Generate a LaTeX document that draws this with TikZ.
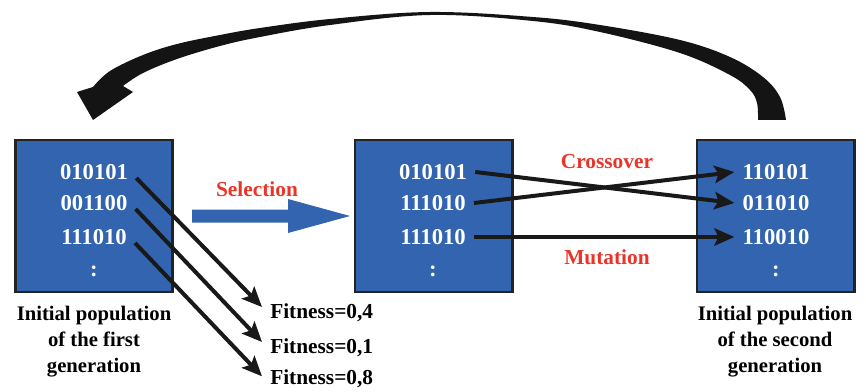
\documentclass[tikz,border=0pt]{standalone}
\usepackage{fontspec}
\setmainfont{Liberation Serif}
\usetikzlibrary{arrows.meta,positioning,calc}
\definecolor{popblue}{RGB}{50,100,176}
\definecolor{oplred}{RGB}{235,52,40}
\definecolor{boxedge}{RGB}{35,35,35}
\tikzset{
    popbox/.style={draw=boxedge, fill=popblue, line width=2pt, minimum width=118pt, minimum height=114pt, inner sep=0pt},
    bits/.style={text=white, font=\fontsize{17}{20}\selectfont\bfseries, inner sep=6pt},
    oplabel/.style={text=oplred, font=\fontsize{16}{19}\selectfont\bfseries},
    fitlabel/.style={font=\fontsize{16}{19}\selectfont\bfseries, inner sep=6pt, anchor=west},
    caption/.style={align=center, font=\fontsize{15.5}{19.5}\selectfont\bfseries},
    flow/.style={line width=3pt, draw=black!90, -{Stealth[length=15pt, width=13pt, inset=3pt]}}
}

\begin{document}
\begin{tikzpicture}[x=0.75pt, y=-0.75pt]
    \useasboundingbox (0,0) rectangle (866,392);
    % populations
    \node[popbox] (pop1) at (94,216) {};
    \node[popbox] (pop2) at (433.5,216) {};
    \node[popbox] (pop3) at (775.5,216) {};
    % first generation
    \node[bits] (a1) at (94,172) {010101};
    \node[bits] (a2) at (94,203) {001100};
    \node[bits] (a3) at (94,237) {111010};
    \node[bits] (a4) at (94,271) {:};
    % selected
    \node[bits] (b1) at (433,172) {010101};
    \node[bits] (b2) at (433,203) {111010};
    \node[bits] (b3) at (433,237) {111010};
    \node[bits] (b4) at (433,271) {:};
    % second generation
    \node[bits] (c1) at (776,172) {110101};
    \node[bits] (c2) at (776,203) {011010};
    \node[bits] (c3) at (776,237) {110010};
    \node[bits] (c4) at (776,271) {:};
    % fitness values
    \node[fitlabel] (f1) at (262,313) {Fitness=0,4};
    \node[fitlabel] (f2) at (262,348) {Fitness=0,1};
    \node[fitlabel] (f3) at (262,379) {Fitness=0,8};
    \draw[flow] ([yshift=-4.5pt]a1.east) -- ([yshift=4.5pt]f1.west);
    \draw[flow] ([yshift=-4.5pt]a2.east) -- ([yshift=4.5pt]f2.west);
    \draw[flow] ([yshift=-4.5pt]a3.east) -- ([yshift=2pt]f3.west);
    % selection
    \node[oplabel] (sel) at (257,189) {Selection};
    \fill[popblue] (192,209.5) -- (288,209.5) -- (288,199) -- (350,216) -- (288,233) -- (288,222.5) -- (192,222.5) -- cycle;
    % crossover and mutation
    \node[oplabel] (cross) at (607,162) {Crossover};
    \node[oplabel] (mut) at (607,257) {Mutation};
    \draw[flow] (b1.east) -- (c2.west);
    \draw[flow] (b2.east) -- (c1.west);
    \draw[flow] (b3.east) -- (c3.west);
    % captions
    \node[caption] (cap1) at (94,342) {Initial population\\of the first\\generation};
    \node[caption] (cap2) at (775,342) {Initial population\\of the second\\generation};
    % back to the start
    \fill[black!92] (786,120)
        -- plot[smooth, tension=0.6] coordinates {(786,120) (780,97) (763,77) (730,57) (680,40) (600,25) (533,17) (430,12) (330,19) (260,28) (220,35) (177,44) (143,55) (110,71) (93,87)}
        -- (77,92) -- (93,120) -- (133,92) -- (123,86)
        -- plot[smooth, tension=0.6] coordinates {(123,86) (143,73) (177,59) (220,46) (260,37) (330,25) (430,15) (533,21) (600,32) (680,53) (730,75) (750,90) (757,103) (758,120)}
        -- cycle;
\end{tikzpicture}
\end{document}
